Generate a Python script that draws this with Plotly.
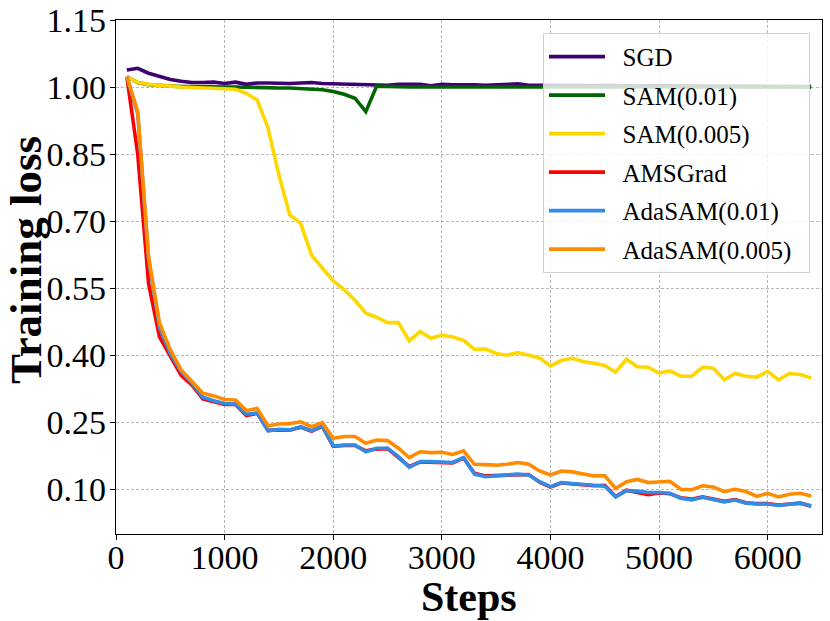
import plotly.graph_objects as go

steps = list(range(100, 6401, 100))

sgd = [1.038, 1.042, 1.031, 1.023, 1.017, 1.013, 1.010, 1.010, 1.011, 1.008,
       1.011, 1.006, 1.009, 1.009, 1.008, 1.008, 1.009, 1.010, 1.008, 1.007,
       1.006, 1.005, 1.004, 1.004, 1.004, 1.006, 1.006, 1.006, 1.003, 1.006,
       1.005, 1.006, 1.005, 1.004, 1.005, 1.004, 1.007, 1.004, 1.005, 1.004,
       1.004, 1.003, 1.004, 1.003, 1.004, 1.003, 1.003, 1.002, 1.003, 1.003,
       1.002, 1.003, 1.002, 1.003, 1.002, 1.002, 1.003, 1.002, 1.002, 1.002,
       1.001, 1.002, 1.001, 1.001]

sam_01 = [1.023, 1.010, 1.005, 1.003, 1.002, 1.001, 1.001, 1.000, 1.000, 1.000,
          1.000, 0.999, 0.999, 0.999, 0.998, 0.998, 0.997, 0.996, 0.994, 0.990,
          0.984, 0.975, 0.945, 1.002, 1.001, 1.001, 1.000, 1.000, 1.001, 1.000,
          1.000, 1.000, 1.001, 1.000, 1.000, 1.000, 1.000, 1.000, 1.001, 1.000,
          1.000, 1.000, 1.000, 1.000, 1.000, 1.000, 1.000, 1.000, 1.000, 1.000,
          1.000, 1.000, 1.000, 1.000, 1.000, 1.000, 1.000, 1.000, 1.000, 1.000,
          1.000, 1.000, 1.000, 1.000]

sam_005 = [1.023, 1.010, 1.006, 1.003, 1.002, 1.000, 0.999, 0.999, 0.998, 0.996,
           0.995, 0.986, 0.971, 0.908, 0.803, 0.714, 0.695, 0.624, 0.594, 0.566,
           0.547, 0.523, 0.494, 0.485, 0.473, 0.473, 0.432, 0.453, 0.438, 0.445,
           0.441, 0.433, 0.413, 0.414, 0.404, 0.400, 0.406, 0.400, 0.394, 0.376,
           0.388, 0.393, 0.386, 0.382, 0.377, 0.362, 0.391, 0.374, 0.373, 0.360,
           0.365, 0.353, 0.353, 0.373, 0.371, 0.345, 0.359, 0.353, 0.351, 0.364,
           0.345, 0.359, 0.357, 0.349]

amsgrad = [1.023, 0.850, 0.560, 0.441, 0.398, 0.355, 0.333, 0.302, 0.296, 0.290,
           0.290, 0.265, 0.270, 0.232, 0.233, 0.232, 0.239, 0.230, 0.241, 0.196,
           0.198, 0.198, 0.186, 0.190, 0.191, 0.172, 0.151, 0.161, 0.160, 0.158,
           0.159, 0.170, 0.136, 0.130, 0.131, 0.130, 0.132, 0.133, 0.116, 0.105,
           0.114, 0.112, 0.109, 0.108, 0.109, 0.084, 0.098, 0.093, 0.088, 0.092,
           0.090, 0.081, 0.078, 0.083, 0.079, 0.073, 0.077, 0.070, 0.068, 0.068,
           0.065, 0.068, 0.069, 0.062]

adasam_01 = [1.023, 0.940, 0.615, 0.462, 0.404, 0.363, 0.337, 0.306, 0.298, 0.292,
             0.291, 0.268, 0.271, 0.231, 0.234, 0.233, 0.240, 0.231, 0.242, 0.197,
             0.199, 0.199, 0.184, 0.192, 0.192, 0.173, 0.149, 0.162, 0.162, 0.160,
             0.160, 0.171, 0.134, 0.128, 0.130, 0.132, 0.134, 0.132, 0.117, 0.106,
             0.115, 0.113, 0.111, 0.110, 0.107, 0.083, 0.097, 0.096, 0.093, 0.093,
             0.091, 0.080, 0.076, 0.082, 0.078, 0.072, 0.076, 0.069, 0.067, 0.067,
             0.064, 0.067, 0.069, 0.063]

adasam_005 = [1.023, 0.945, 0.620, 0.472, 0.412, 0.367, 0.341, 0.315, 0.309, 0.301,
              0.300, 0.276, 0.281, 0.242, 0.246, 0.247, 0.251, 0.240, 0.249, 0.214,
              0.218, 0.218, 0.203, 0.210, 0.209, 0.192, 0.171, 0.184, 0.182, 0.183,
              0.178, 0.186, 0.156, 0.154, 0.154, 0.156, 0.160, 0.156, 0.141, 0.132,
              0.141, 0.139, 0.134, 0.130, 0.130, 0.102, 0.117, 0.122, 0.115, 0.117,
              0.118, 0.100, 0.099, 0.108, 0.105, 0.095, 0.100, 0.095, 0.084, 0.091,
              0.083, 0.089, 0.091, 0.085]

series = [
    ("SGD", sgd, "#3f0071"),
    ("SAM(0.01)", sam_01, "#006400"),
    ("SAM(0.005)", sam_005, "#ffd700"),
    ("AMSGrad", amsgrad, "#ff0000"),
    ("AdaSAM(0.01)", adasam_01, "#318ce7"),
    ("AdaSAM(0.005)", adasam_005, "#ff8c00"),
]

y_ticks = [0.10, 0.25, 0.40, 0.55, 0.70, 0.85, 1.00, 1.15]
x_ticks = [0, 1000, 2000, 3000, 4000, 5000, 6000]

FONT = "Liberation Serif"
PAD = "\u00a0\u00a0"

fig = go.Figure()
for name, vals, color in series:
    fig.add_trace(go.Scatter(
        x=steps, y=vals, mode="lines", name=PAD + name + PAD, legendgroup=name,
        line=dict(color=color, width=3.6),
    ))

axis_common = dict(
    showline=True, linecolor="black", linewidth=1.2, mirror=True,
    ticks="outside", ticklen=5, tickwidth=1, tickcolor="black",
    showgrid=True, gridcolor="rgba(160,160,160,0.75)", gridwidth=0.8,
    griddash="3px,2px", zeroline=False,
    tickfont=dict(family=FONT, size=34, color="black"),
)

fig.update_xaxes(
    range=[0, 6500], tickvals=x_ticks, ticktext=[str(t) for t in x_ticks],
    ticklabelstandoff=-12,
    **axis_common,
)
fig.update_yaxes(
    range=[0, 1.15], tickvals=y_ticks, ticktext=[f"{t:.2f}" for t in y_ticks],
    ticklabelstandoff=-3,
    **axis_common,
)

fig.add_annotation(
    text="<b>Steps</b>", xref="paper", yref="paper", x=0.5, y=-0.1226,
    xanchor="center", yanchor="middle", showarrow=False,
    font=dict(family=FONT, size=42, color="black"),
)
fig.add_annotation(
    text="<b>Training loss</b>", xref="paper", yref="paper", x=-0.1275, y=0.533,
    xanchor="center", yanchor="middle", showarrow=False, textangle=-90,
    font=dict(family=FONT, size=45, color="black"),
)

fig.update_layout(
    width=830, height=621,
    margin=dict(l=116, r=8, t=20, b=87, autoexpand=False),
    plot_bgcolor="white", paper_bgcolor="white",
    legend=dict(
        x=0.983, y=0.975, xanchor="right", yanchor="top",
        bgcolor="rgba(255,255,255,0.8)", bordercolor="#d0d0d0", borderwidth=1,
        font=dict(family=FONT, size=25, color="black"),
        itemwidth=56, tracegroupgap=3,
    ),
)

fig.write_html(
    "out.html",
    config={"displayModeBar": False},
    post_script="document.body.style.margin='0px';document.body.style.overflow='hidden';",
)
